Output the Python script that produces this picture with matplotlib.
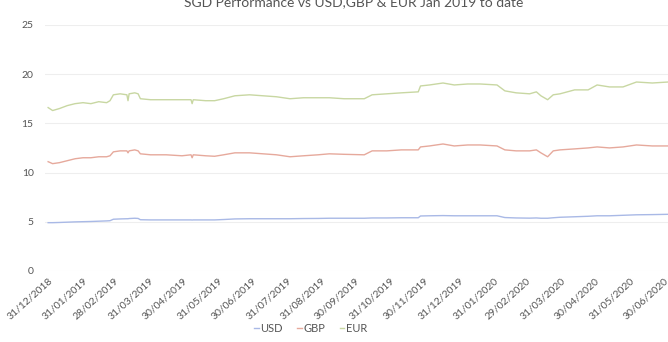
import matplotlib
matplotlib.use("Agg")
import matplotlib.pyplot as plt
import matplotlib.dates as mdates
import pandas as pd

plt.rcParams['font.family'] = ['Lato', 'DejaVu Sans']

title = "SGD Performance vs USD,GBP & EUR Jan 2019 to date"

dates = [
    "2018-12-31", "2019-01-04", "2019-01-10", "2019-01-17", "2019-01-24", "2019-01-31",
    "2019-02-07", "2019-02-14", "2019-02-21", "2019-02-24", "2019-02-27", "2019-03-05",
    "2019-03-11", "2019-03-12", "2019-03-13", "2019-03-18", "2019-03-21", "2019-03-23",
    "2019-04-01", "2019-04-15", "2019-04-29", "2019-05-07", "2019-05-08", "2019-05-09",
    "2019-05-20", "2019-05-28", "2019-06-05", "2019-06-15", "2019-06-28", "2019-07-10",
    "2019-07-22", "2019-08-03", "2019-08-15", "2019-08-28", "2019-09-07", "2019-09-20",
    "2019-10-08", "2019-10-15", "2019-10-28", "2019-11-10", "2019-11-25", "2019-11-27",
    "2019-12-05", "2019-12-17", "2019-12-27", "2020-01-08", "2020-01-19", "2020-02-03",
    "2020-02-10", "2020-02-20", "2020-03-03", "2020-03-09", "2020-03-13", "2020-03-19",
    "2020-03-24", "2020-03-30", "2020-04-12", "2020-04-24", "2020-05-02", "2020-05-13",
    "2020-05-25", "2020-06-06", "2020-06-20", "2020-07-04",
]

usd = [
    4.90, 4.90, 4.92, 4.95, 4.98, 5.00, 5.02, 5.05, 5.08, 5.10, 5.25, 5.28,
    5.30, 5.30, 5.32, 5.35, 5.33, 5.20, 5.18, 5.18, 5.18, 5.18, 5.17, 5.18,
    5.18, 5.18, 5.22, 5.28, 5.30, 5.30, 5.30, 5.30, 5.32, 5.33, 5.35, 5.35,
    5.35, 5.38, 5.38, 5.40, 5.40, 5.58, 5.60, 5.62, 5.60, 5.60, 5.60, 5.60,
    5.42, 5.38, 5.36, 5.38, 5.35, 5.35, 5.40, 5.45, 5.50, 5.55, 5.60, 5.60,
    5.65, 5.70, 5.72, 5.75,
]

gbp = [
    11.1, 10.9, 11.0, 11.2, 11.4, 11.5, 11.5, 11.6, 11.6, 11.7, 12.1, 12.2,
    12.2, 12.0, 12.2, 12.3, 12.2, 11.9, 11.8, 11.8, 11.7, 11.8, 11.5, 11.8,
    11.7, 11.65, 11.8, 12.0, 12.0, 11.9, 11.8, 11.6, 11.7, 11.8, 11.9, 11.85,
    11.8, 12.2, 12.2, 12.3, 12.3, 12.6, 12.7, 12.9, 12.7, 12.8, 12.8, 12.7,
    12.3, 12.2, 12.2, 12.3, 12.0, 11.6, 12.2, 12.3, 12.4, 12.5, 12.6, 12.5,
    12.6, 12.8, 12.7, 12.7,
]

eur = [
    16.6, 16.3, 16.5, 16.8, 17.0, 17.1, 17.0, 17.2, 17.1, 17.3, 17.9, 18.0,
    17.9, 17.3, 18.0, 18.1, 18.0, 17.5, 17.4, 17.4, 17.4, 17.4, 17.0, 17.4,
    17.3, 17.3, 17.5, 17.8, 17.9, 17.8, 17.7, 17.5, 17.6, 17.6, 17.6, 17.5,
    17.5, 17.9, 18.0, 18.1, 18.2, 18.8, 18.9, 19.1, 18.9, 19.0, 19.0, 18.9,
    18.3, 18.1, 18.0, 18.2, 17.8, 17.4, 17.9, 18.0, 18.4, 18.4, 18.9, 18.7,
    18.7, 19.2, 19.1, 19.2,
]

x = pd.to_datetime(dates)

fig = plt.figure(figsize=(6.68, 3.42), dpi=100)
ax = fig.add_axes([0.067, 0.208, 0.933, 0.719])

ax.plot(x, usd, color="#a9b9e6", lw=1.0, label="USD")
ax.plot(x, gbp, color="#e6a99c", lw=1.0, label="GBP")
ax.plot(x, eur, color="#c8d7a2", lw=1.0, label="EUR")

ax.set_ylim(0, 25)
ax.set_yticks([0, 5, 10, 15, 20, 25])
ax.set_xlim(pd.Timestamp("2018-12-28"), pd.Timestamp("2020-07-04"))

# month-end ticks
ticks = pd.date_range("2018-12-31", "2020-06-30", freq="ME")
ax.set_xticks(ticks)
ax.xaxis.set_major_formatter(mdates.DateFormatter("%d/%m/%Y"))
for lbl in ax.get_xticklabels():
    lbl.set_rotation(42)
    lbl.set_ha("right")
    lbl.set_rotation_mode("anchor")

ax.tick_params(axis="both", length=0, labelsize=7.5, colors="#555555")
ax.tick_params(axis="y", pad=8)
ax.tick_params(axis="x", pad=4)
ax.grid(axis="y", color="#eeeeee", lw=0.8)
ax.set_axisbelow(True)
for s in ax.spines.values():
    s.set_visible(False)

fig.text(0.53, 0.995, title, ha="center", va="center", fontsize=10, color="#555555")

leg = fig.legend(loc="lower center", bbox_to_anchor=(0.465, -0.005), ncol=3, frameon=False,
                 handlelength=0.4, handletextpad=0.15, columnspacing=1.3, fontsize=8)
for t in leg.get_texts():
    t.set_color("#555555")

fig.savefig("out.png", dpi=100)
